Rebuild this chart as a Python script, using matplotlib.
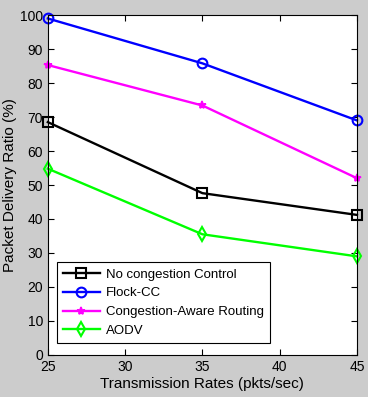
import matplotlib.pyplot as plt

plt.rcParams['font.family'] = ['Liberation Sans', 'DejaVu Sans']

# data
rates = [25, 35, 45]
no_cc = [68.5, 47.6, 41.2]
flock_cc = [99.0, 85.8, 69.0]
car = [85.3, 73.4, 52.0]
aodv = [54.8, 35.5, 29.0]

fig = plt.figure(figsize=(3.68, 3.97), dpi=100, facecolor='#cccccc')
ax = fig.add_axes((0.130, 0.106, 0.840, 0.856))
ax.set_facecolor('white')

ax.plot(rates, no_cc, color='black', marker='s', mfc='none', ms=7, mew=1.5, lw=1.7,
        label='No congestion Control', clip_on=False)
ax.plot(rates, flock_cc, color='#0000ff', marker='o', mfc='none', ms=7, mew=1.5, lw=1.7,
        label='Flock-CC', clip_on=False)
ax.plot(rates, car, color='#ff00ff', marker='*', ms=6, mew=1.2, lw=1.7,
        label='Congestion-Aware Routing', clip_on=False)
ax.plot(rates, aodv, color='#00ff00', marker='d', mfc='none', ms=7, mew=1.5, lw=1.7,
        label='AODV', clip_on=False)

ax.set_xlim(25, 45)
ax.set_ylim(0, 100)
ax.set_xticks([25, 30, 35, 40, 45])
ax.set_yticks(range(0, 101, 10))
ax.tick_params(direction='in', top=True, right=True, labelsize=10, length=4)
ax.set_xlabel('Transmission Rates (pkts/sec)', fontsize=11, labelpad=2)
ax.set_ylabel('Packet Delivery Ratio (%)', fontsize=11, labelpad=2)

leg = ax.legend(loc='lower left', bbox_to_anchor=(0.029, 0.035), borderaxespad=0,
                fontsize=9.5, frameon=True, fancybox=False, edgecolor='black',
                framealpha=1, borderpad=0.45, labelspacing=0.5,
                handlelength=2.8, handletextpad=0.5)
leg.get_frame().set_linewidth(0.8)

fig.savefig('out.png', dpi=100, facecolor=fig.get_facecolor())
